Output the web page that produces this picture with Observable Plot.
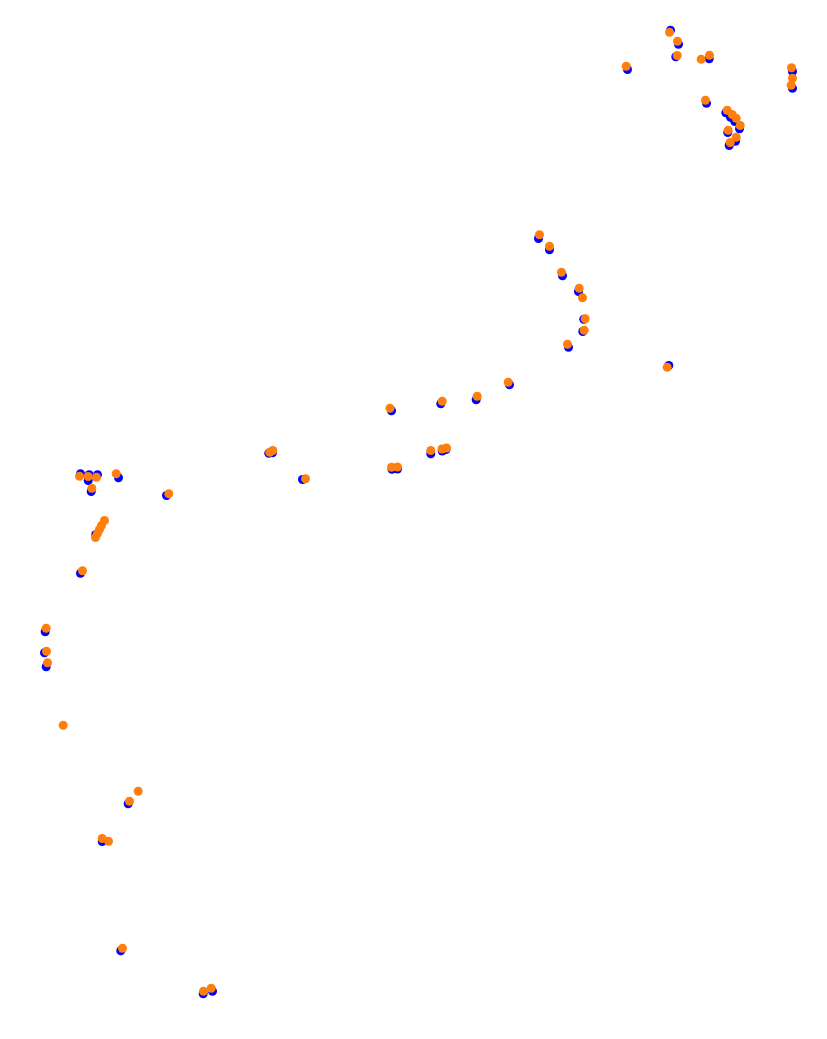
<!DOCTYPE html>
<html>
<head>
<meta charset="utf-8">
<script src="https://cdn.jsdelivr.net/npm/d3@7"></script>
<script src="https://cdn.jsdelivr.net/npm/@observablehq/plot@0.6"></script>
<style>
  html, body { margin: 0; padding: 0; background: #fff; }
</style>
</head>
<body>
<div id="chart"></div>
<script>
// Series A (blue) positions
const blueX = [670,678,675.3,708.7,627,792,792,706,725.3,730,734.3,739,727.3,735,728.7,
  538,549,562,578,583.3,582.3,568,668.3,
  391,440.3,475.7,509,430.3,441.7,445.5,391.5,397,
  80,88.7,87.7,97,90.7,118,166,95.3,80,
  268.3,272,302,
  44.7,44,45.7,
  127.7,101.7,120.3,202.7,212];
const blueY = [29.7,43.7,56.3,58.3,69,71,87.7,102.7,112.3,116.7,121,128.3,132,140.7,145,
  238,249.3,275.3,291,318.7,331,346.7,365,
  410.3,403.3,399.3,384.3,453.3,450.5,449,468.7,468.5,
  473.3,474.3,480,474.3,491,477.3,495,534,572.7,
  452.7,452.2,479,
  631.3,652.3,666.3,
  803.3,841,950.3,993.3,990.7];
// Series B (orange) positions
const orangeX = [669,677,676.7,700.7,709,625.7,791,792,790.7,705,726.7,731.7,735.7,739.7,727.7,735.7,729.7,
  539,549,561,578.7,582,584.7,583.7,567,666.7,
  389.5,441.7,476.7,507.7,430.3,441.5,446,391,397,
  79,87.7,96,91.3,115.7,168.3,95,97,99,101,104,82,
  272.3,269.3,305,
  45.7,46,47,62.7,
  137.7,129,101.7,108,122,203,210.7];
const orangeY = [31.7,40.7,55,58.7,54.7,65.7,67.3,77.7,84.7,99.7,109.7,114,117.7,125,129.7,136.7,142,
  234.3,245.7,271.7,287.7,297.3,318.3,329.7,343.7,366.7,
  407.7,400.7,395.7,381.7,450,448.5,447.5,466.7,466.5,
  475.7,476,476.7,487.7,473.3,493.3,537,533,529,525,520,570.3,
  450,451.7,478.3,
  627.7,650.7,662.3,724.7,
  790.7,800.7,838,840.7,947.7,990.7,987.7];

const blue = blueX.map((x, i) => ({x, y: blueY[i]}));
const orange = orangeX.map((x, i) => ({x, y: orangeY[i]}));

const chart = Plot.plot({
  width: 827,
  height: 1039,
  margin: 0,
  x: {domain: [0, 827], range: [0, 827], axis: null},
  y: {domain: [0, 1039], range: [0, 1039], axis: null},
  marks: [
    Plot.dot(blue, {x: "x", y: "y", r: 4.5, fill: "#0000ff", stroke: "none"}),
    Plot.dot(orange, {x: "x", y: "y", r: 4.5, fill: "#ff7f0e", stroke: "none"})
  ]
});
document.getElementById("chart").appendChild(chart);
</script>
</body>
</html>
